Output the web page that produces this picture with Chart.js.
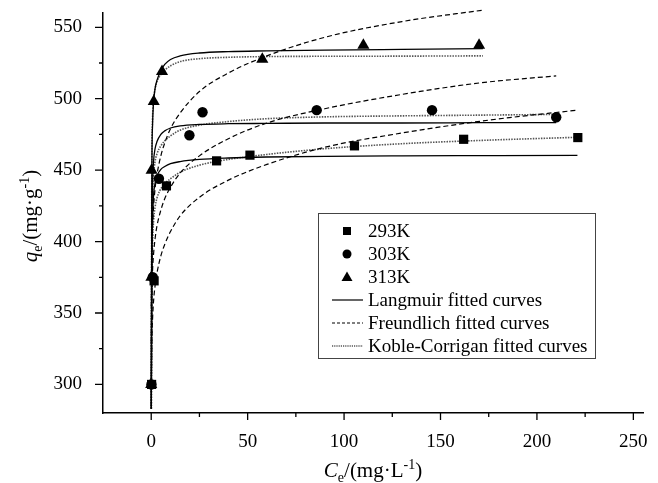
<!DOCTYPE html>
<html>
<head>
<meta charset="utf-8">
<script src="https://cdn.jsdelivr.net/npm/chart.js@4.4.0/dist/chart.umd.min.js"></script>
<style>
body { margin: 0; background: #fff; }
</style>
</head>
<body>
<canvas id="isotherm" width="658" height="483"></canvas>
<script>
var ctx = document.getElementById('isotherm').getContext('2d');

/* measured points */
const ce293 = [0.2, 1.5, 7.9, 33.9, 51.2, 105.4, 162, 221.2];
const q293  = [300, 372.5, 439, 456.5, 460.5, 467, 471.6, 472.8];
const ce303 = [0.1, 0.8, 4, 19.8, 26.6, 85.8, 145.6, 210];
const q303  = [300, 375, 444, 474.4, 490.5, 492, 492, 487];
const ce313 = [0, 0.1, 0.2, 1.3, 5.6, 57.6, 110, 170];
const q313  = [300, 375, 450, 498, 519, 527.6, 537.4, 537.4];

/* fitted curves */
const fitX293 = [0.05, 0.3, 0.7, 1.2, 2, 3, 5, 7, 10, 15, 25, 40, 60, 90, 130, 175, 221];
const lang293 = [283, 380, 415, 432, 441, 446, 450.5, 452.5, 454.5, 456, 457.5, 458.5, 459.2, 459.7, 460, 460.2, 460.4];
const freu293 = [295, 329, 346, 358, 369, 378, 390, 398, 407, 418, 431, 443, 454, 466, 476, 485, 492];
const kc293   = [283, 365, 398, 414, 424, 430.5, 437, 440.5, 444, 448.5, 453.5, 457.5, 461, 465, 468.5, 471, 473];

const fitX303 = [0.05, 0.3, 0.7, 1.2, 2, 3, 5, 7, 10, 15, 25, 40, 60, 90, 130, 170, 210];
const lang303 = [283, 400, 440, 456, 465, 470, 475, 477.5, 479.5, 481, 482, 482.5, 482.7, 483, 483, 483.2, 483.3];
const freu303 = [329, 363, 380, 391, 402, 411, 422, 430, 438, 448, 460, 472, 483, 493, 503, 511, 516];
const kc303   = [283, 390, 430, 446, 456, 461.5, 467, 470.5, 474, 478, 481.5, 484, 486, 487.3, 488, 488.5, 489];

const fitX313 = [0.05, 0.3, 0.7, 1.2, 2, 3, 5, 7, 10, 15, 25, 40, 60, 90, 130, 172];
const lang313 = [283, 440, 482, 497, 507, 513, 519.5, 524, 527.5, 530, 532, 533, 533.5, 534, 534.5, 535];
const freu313 = [354, 392, 411, 424, 437, 447, 460, 469, 479, 490, 505, 518, 530, 543, 554, 562];
const kc313   = [283, 445, 486, 499, 507, 512, 517, 520, 523, 526, 528, 529, 529.5, 529.7, 529.8, 530];

const xTicks = [-25, 0, 25, 50, 75, 100, 125, 150, 175, 200, 225, 250];
const yTicks = [300, 325, 350, 375, 400, 425, 450, 475, 500, 525, 550];
const legendNames = ['293K', '303K', '313K', 'Langmuir fitted curves', 'Freundlich fitted curves', 'Koble-Corrigan fitted curves'];

const serif = '"Liberation Serif", "Times New Roman", serif';

function pts(xs, ys) {
    return xs.map(function (x, i) { return { x: x, y: ys[i] }; });
}

function marks(label, xs, ys, style, r) {
    return { label: label, data: pts(xs, ys), showLine: false, pointStyle: style, pointRadius: r,
             pointBackgroundColor: '#000', pointBorderColor: '#000', pointBorderWidth: 0 };
}

function curve(label, xs, ys, kind) {
    var ds = { label: label, data: pts(xs, ys), showLine: true, pointRadius: 0, fill: false,
               cubicInterpolationMode: 'monotone', clip: false };
    if (kind === 'L') { ds.borderColor = '#000'; ds.borderWidth = 1.3; }
    if (kind === 'F') { ds.borderColor = '#000'; ds.borderWidth = 1.2; ds.borderDash = [5, 3]; }
    if (kind === 'K') { ds.borderColor = '#555'; ds.borderWidth = 1.6; ds.borderDash = [1.5, 1.2]; }
    return ds;
}

/* text with italic letter, subscript and superscript */
function drawTitle(c, parts, cx, cy) {
    var size = 21, small = 14;
    var total = 0;
    parts.forEach(function (p) {
        c.font = (p.it ? 'italic ' : '') + (p.sub || p.sup ? small : size) + 'px ' + serif;
        p.w = c.measureText(p.t).width;
        total += p.w;
    });
    var x = cx - total / 2;
    c.textAlign = 'left';
    c.textBaseline = 'alphabetic';
    parts.forEach(function (p) {
        c.font = (p.it ? 'italic ' : '') + (p.sub || p.sup ? small : size) + 'px ' + serif;
        var dy = p.sub ? 5 : (p.sup ? -8 : 0);
        c.fillText(p.t, x, cy + dy);
        x += p.w;
    });
}

const decor = {
    id: 'decor',
    afterDraw: function (chart) {
        var c = chart.ctx, xs = chart.scales.x, ys = chart.scales.y;
        c.save();
        c.strokeStyle = '#000';
        c.lineWidth = 1.3;
        c.beginPath();
        xTicks.forEach(function (v) {
            if (v < 0) return;
            var px = xs.getPixelForValue(v), len = v % 50 === 0 ? 7 : 4;
            c.moveTo(px, ys.bottom); c.lineTo(px, ys.bottom + len);
        });
        yTicks.forEach(function (v) {
            var py = ys.getPixelForValue(v), len = v % 50 === 0 ? 8 : 4;
            c.moveTo(xs.left, py); c.lineTo(xs.left - len, py);
        });
        c.stroke();

        c.fillStyle = '#000';
        drawTitle(c, [{ t: 'C', it: true }, { t: 'e', sub: true }, { t: '/(mg·L' }, { t: '-1', sup: true }, { t: ')' }],
                  (xs.left + xs.right) / 2, 477);
        c.save();
        c.translate(37, (ys.top + ys.bottom) / 2 + 3);
        c.rotate(-Math.PI / 2);
        drawTitle(c, [{ t: 'q', it: true }, { t: 'e', sub: true }, { t: '/(mg·g' }, { t: '-1', sup: true }, { t: ')' }], 0, 0);
        c.restore();

        /* legend */
        var L = 318, T = 213, R = 595, B = 358, row0 = 231, gap = 23, mx = 347;
        c.strokeStyle = '#444';
        c.lineWidth = 1;
        c.strokeRect(L + 0.5, T + 0.5, R - L, B - T);
        c.font = '19px ' + serif;
        c.textAlign = 'left';
        c.textBaseline = 'middle';
        legendNames.forEach(function (name, i) {
            var y = row0 + i * gap;
            c.fillStyle = '#000';
            if (i === 0) { c.fillRect(mx - 4, y - 4, 8, 8); }
            if (i === 1) { c.beginPath(); c.arc(mx, y, 4.5, 0, Math.PI * 2); c.fill(); }
            if (i === 2) { c.beginPath(); c.moveTo(mx, y - 5.5); c.lineTo(mx + 5.5, y + 4); c.lineTo(mx - 5.5, y + 4); c.closePath(); c.fill(); }
            if (i >= 3) {
                c.beginPath();
                c.strokeStyle = i === 5 ? '#555' : '#000';
                c.lineWidth = i === 5 ? 1.5 : 1.2;
                c.setLineDash(i === 4 ? [3, 2] : (i === 5 ? [1.2, 1] : []));
                c.moveTo(332, y); c.lineTo(363, y);
                c.stroke();
                c.setLineDash([]);
            }
            c.fillText(name, 368, y + 1);
        });
        c.restore();
    }
};

var myChart = new Chart(ctx, {
    type: 'scatter',
    data: {
        datasets: [
            marks('293K', ce293, q293, 'rect', 6.5),
            marks('303K', ce303, q303, 'circle', 5.2),
            marks('313K', ce313, q313, 'triangle', 7),
            curve('Langmuir 293K', fitX293, lang293, 'L'),
            curve('Langmuir 303K', fitX303, lang303, 'L'),
            curve('Langmuir 313K', fitX313, lang313, 'L'),
            curve('Freundlich 293K', fitX293, freu293, 'F'),
            curve('Freundlich 303K', fitX303, freu303, 'F'),
            curve('Freundlich 313K', fitX313, freu313, 'F'),
            curve('Koble-Corrigan 293K', fitX293, kc293, 'K'),
            curve('Koble-Corrigan 303K', fitX303, kc303, 'K'),
            curve('Koble-Corrigan 313K', fitX313, kc313, 'K')
        ]
    },
    options: {
        responsive: false,
        animation: false,
        layout: { padding: { top: 13, right: 15, left: 0, bottom: 0 } },
        plugins: { legend: { display: false }, tooltip: { enabled: false } },
        scales: {
            x: {
                type: 'linear', min: -25, max: 255,
                afterBuildTicks: function (s) { s.ticks = xTicks.map(function (v) { return { value: v }; }); },
                afterFit: function (s) { s.height = 70; s.paddingLeft = 0; s.paddingRight = 0; },
                grid: { display: false },
                border: { display: true, color: '#000', width: 1.5 },
                ticks: {
                    color: '#000', padding: 10, maxRotation: 0, autoSkip: false,
                    font: { family: serif, size: 19 },
                    callback: function (v) { return v >= 0 && v % 50 === 0 ? String(v) : ''; }
                }
            },
            y: {
                type: 'linear', min: 280, max: 560,
                afterBuildTicks: function (s) { s.ticks = yTicks.map(function (v) { return { value: v }; }); },
                afterFit: function (s) { s.width = 103; s.paddingTop = 0; s.paddingBottom = 0; },
                grid: { display: false },
                border: { display: true, color: '#000', width: 1.5 },
                ticks: {
                    color: '#000', padding: 13, autoSkip: false,
                    font: { family: serif, size: 19 },
                    callback: function (v) { return v % 50 === 0 ? String(v) : ''; }
                }
            }
        }
    },
    plugins: [decor]
});
</script>
</body>
</html>
